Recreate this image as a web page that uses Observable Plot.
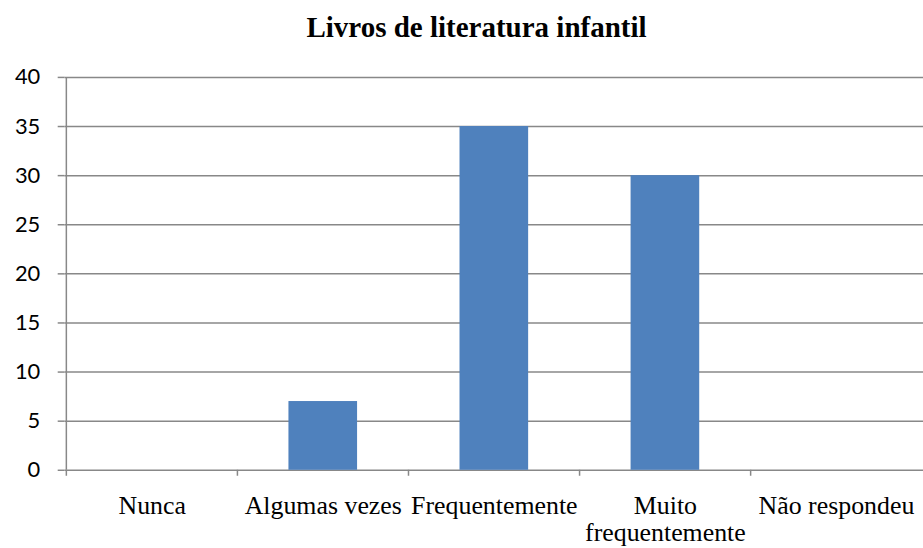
<!DOCTYPE html>
<html>
<head>
<meta charset="utf-8">
<script src="https://cdn.jsdelivr.net/npm/d3@7"></script>
<script src="https://cdn.jsdelivr.net/npm/@observablehq/plot@0.6"></script>
<style>
  html, body { margin: 0; padding: 0; background: #fff; overflow: hidden; }
  #wrap { position: relative; width: 923px; height: 548px; overflow: hidden; }
  #title { position: absolute; left: 0; top: 13px; width: 953px; text-align: center;
           font-family: "Liberation Serif", "Times New Roman", serif; font-weight: bold;
           font-size: 29px; line-height: 1; color: #000; }
  #chart { position: absolute; left: 1px; top: 62px; }
</style>
</head>
<body>
<div id="wrap">
  <div id="title">Livros de literatura infantil</div>
  <div id="chart"></div>
</div>
<script>
const categories = ["Nunca", "Algumas vezes", "Frequentemente", "Muito frequentemente", "Não respondeu"];
const values = [0, 7, 35, 30, 0];
const yTicks = [0, 5, 10, 15, 20, 25, 30, 35, 40];

const rows = categories.map((c, i) => ({category: c, value: values[i]}));

const W = 927, H = 486, ML = 64, MR = 0, MT = 15, MB = 76;
const half = (W - ML - MR) / categories.length / 2;
const gridColor = "#888888";

const chart = Plot.plot({
  width: W,
  height: H,
  marginLeft: ML,
  marginRight: MR,
  marginTop: MT,
  marginBottom: MB,
  style: {background: "white", overflow: "visible"},
  x: {domain: categories, paddingInner: 0.6, paddingOuter: 0.3},
  y: {domain: [0, 40]},
  marks: [
    Plot.gridY(yTicks, {stroke: gridColor, strokeOpacity: 1, strokeWidth: 1.5}),
    Plot.barY(rows, {x: "category", y: "value", fill: "#4F81BD"}),
    Plot.ruleX([categories[0]], {x: d => d, dx: -half, stroke: gridColor, strokeWidth: 1.5}),
    Plot.axisY(yTicks, {
      tickSize: 7, tickPadding: 18, stroke: gridColor, strokeWidth: 1.5,
      fill: "black", fontFamily: "Lato", fontSize: 22, label: null
    }),
    Plot.axisX({
      tickSize: 6, tickFormat: null, dx: -half, stroke: gridColor, strokeWidth: 1.5, label: null
    }),
    Plot.axisX({
      tickSize: 0, tickPadding: 24, fill: "black",
      fontFamily: "Liberation Serif", fontSize: 26, lineHeight: 1.06, label: null,
      tickFormat: d => d === "Muito frequentemente" ? "Muito\nfrequentemente" : d
    })
  ]
});

document.getElementById("chart").appendChild(chart);
</script>
</body>
</html>
